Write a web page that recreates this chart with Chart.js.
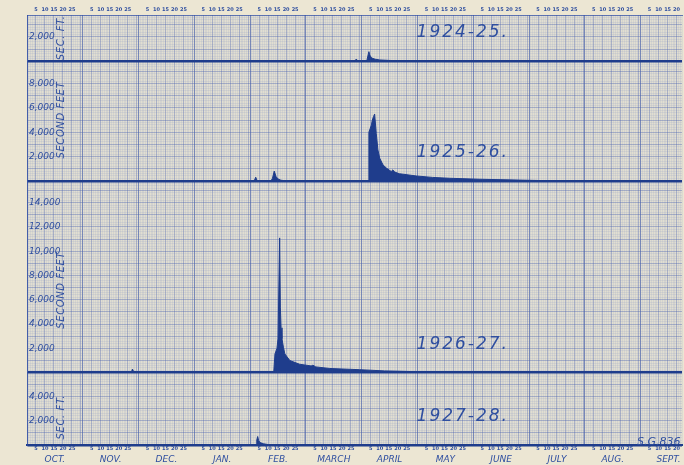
<!DOCTYPE html>
<html>
<head>
<meta charset="utf-8">
<script src="https://cdn.jsdelivr.net/npm/chart.js@4.4.1/dist/chart.umd.min.js"></script>
<style>
  html, body { margin: 0; padding: 0; background: #ece6d3; }
  canvas { display: block; }
</style>
</head>
<body>
<canvas id="hydroChart" width="684" height="465"></canvas>
<script>
const months = ["OCT", "NOV", "DEC", "JAN", "FEB", "MAR", "APR", "MAY", "JUN", "JUL", "AUG", "SEP"];
const monthLabels = ["OCT.", "NOV.", "DEC.", "JAN.", "FEB.", "MARCH", "APRIL", "MAY", "JUNE", "JULY", "AUG.", "SEPT."];
const dayMarks = [5, 10, 15, 20, 25];
const yearLabels = ["1924-25.", "1925-26.", "1926-27.", "1927-28."];
const unitLabels = ["SEC. FT.", "SECOND FEET", "SECOND FEET", "SEC. FT."];
const axisMax = [3800, 9850, 15800, 5950];

// discharge: [month, day, second-feet]
const flow1924_25 = [
    ["OCT", 1, 0], ["MAR", 27.5, 0], ["MAR", 28.5, 170], ["MAR", 29.5, 0],
    ["APR", 3.3, 0], ["APR", 3.8, 350], ["APR", 4.5, 780], ["APR", 5, 500],
    ["APR", 6, 260], ["APR", 8, 160], ["APR", 10.5, 100], ["APR", 16, 60],
    ["APR", 22, 30], ["MAY", 2, 0], ["SEP", 30, 0]
];
const flow1925_26 = [
    ["OCT", 1, 0], ["FEB", 2.8, 0], ["FEB", 3.6, 300], ["FEB", 4.4, 0],
    ["FEB", 12.1, 0], ["FEB", 12.9, 200], ["FEB", 13.9, 800], ["FEB", 14.9, 350],
    ["FEB", 16, 150], ["FEB", 17.6, 50], ["FEB", 20, 0],
    ["APR", 4.3, 0], ["APR", 4.5, 4000], ["APR", 5.9, 4600], ["APR", 6.4, 5000],
    ["APR", 7.1, 5300], ["APR", 7.7, 5500], ["APR", 8.6, 3900], ["APR", 9.5, 2550],
    ["APR", 10.5, 1870], ["APR", 12.3, 1320], ["APR", 14.2, 1050], ["APR", 16.9, 770],
    ["APR", 17.8, 900], ["APR", 18.8, 720], ["APR", 21.5, 580], ["APR", 30.8, 400],
    ["MAY", 8.8, 280], ["MAY", 18.2, 210], ["JUN", 3.8, 130], ["JUN", 26, 60],
    ["JUL", 14, 0], ["SEP", 30, 0]
];
const flow1926_27 = [
    ["OCT", 1, 0], ["NOV", 27.4, 0], ["NOV", 28.1, 300], ["NOV", 28.8, 80], ["NOV", 30, 0],
    ["DEC", 8, 0], ["DEC", 8.8, 90], ["DEC", 9.8, 0],
    ["FEB", 13.6, 0], ["FEB", 14.3, 1550], ["FEB", 15.4, 2000], ["FEB", 16, 2800],
    ["FEB", 16.9, 11100], ["FEB", 17.3, 5400], ["FEB", 17.7, 3700], ["FEB", 18.2, 2800],
    ["FEB", 19, 2100], ["FEB", 19.8, 1550], ["FEB", 22.6, 1000], ["FEB", 28, 700],
    ["MAR", 3.4, 560], ["MAR", 4.4, 620], ["MAR", 6, 480], ["MAR", 13.8, 350],
    ["MAR", 30.4, 250], ["APR", 13.2, 150], ["APR", 27.1, 100], ["MAY", 18.2, 60],
    ["JUN", 14.9, 30], ["JUL", 6, 0], ["SEP", 30, 0]
];
const flow1927_28 = [
    ["OCT", 1, 0], ["FEB", 3.9, 0], ["FEB", 4.2, 420], ["FEB", 4.7, 700], ["FEB", 5.2, 380],
    ["FEB", 6, 200], ["FEB", 8, 100], ["FEB", 10, 50], ["FEB", 13, 0], ["SEP", 30, 0]
];

const INK = "#1f3d8c";
const TEXT = "#2f4fa0";
const X_MAX = 364;

// every month gets 31 columns on the printed sheet
function paperDay(month, day) {
    return months.indexOf(month) * 31 + day - 0.5;
}

function dayTicks(scale) {
    const t = [];
    for (let v = 0; v <= X_MAX; v++) t.push({ value: v });
    scale.ticks = t;
}

function dayLabel(v) {
    const d = v % 31;
    return dayMarks.includes(d) ? String(d) : "";
}

function yAxis(i) {
    return {
        type: "linear",
        position: "left",
        stack: "flow",
        stackWeight: axisMax[i],
        min: 0,
        max: axisMax[i],
        afterBuildTicks: (scale) => {
            const t = [];
            for (let v = 0; v <= axisMax[i]; v += 200) t.push({ value: v });
            scale.ticks = t;
        },
        afterFit: (scale) => { scale.width = 0; },
        grid: {
            drawTicks: false,
            color: (c) => c.tick.value === 0 ? INK : (c.tick.value % 1000 === 0 ? "rgba(70,95,175,0.38)" : "rgba(90,115,190,0.11)"),
            lineWidth: (c) => c.tick.value === 0 ? 2.5 : 1
        },
        border: { display: true, color: "rgba(45,75,165,0.7)", width: 1 },
        ticks: {
            mirror: true,
            padding: 2,
            autoSkip: false,
            color: TEXT,
            font: { family: "DejaVu Sans", style: "italic", size: 9 },
            callback: (v) => (v > 0 && v % 2000 === 0) ? v.toLocaleString("en-US") : ""
        }
    };
}

// blue-print tint of the ruled area
const paperTint = {
    id: "paperTint",
    beforeDraw(chart) {
        const a = chart.chartArea;
        chart.ctx.save();
        chart.ctx.fillStyle = "rgba(120,140,185,0.09)";
        chart.ctx.fillRect(a.left, a.top, a.right - a.left, a.bottom - a.top);
        chart.ctx.restore();
    }
};

const sheetText = {
    id: "sheetText",
    afterDatasetsDraw(chart) {
        const ctx = chart.ctx;
        const xs = chart.scales.x;
        ctx.save();
        ctx.fillStyle = TEXT;
        ctx.textBaseline = "middle";
        ctx.textAlign = "left";
        ctx.font = 'italic 17px "DejaVu Sans"';
        ctx.letterSpacing = "2px";
        yearLabels.forEach((label, i) => {
            const ys = chart.scales["y" + (i + 1)];
            ctx.fillText(label, xs.getPixelForValue(216.5), ys.getPixelForValue(2350));
        });

        // rotated unit captions inside each panel
        const unitCenters = [1920, 5000, 6790, 2300];
        ctx.font = 'italic 10px "DejaVu Sans"';
        ctx.letterSpacing = "0.6px";
        ctx.textAlign = "center";
        unitLabels.forEach((label, i) => {
            const ys = chart.scales["y" + (i + 1)];
            ctx.save();
            ctx.translate(chart.chartArea.left + 34, ys.getPixelForValue(unitCenters[i]));
            ctx.rotate(-Math.PI / 2);
            ctx.fillText(label, 0, 0);
            ctx.restore();
        });

        ctx.font = 'italic 11px "DejaVu Sans"';
        ctx.letterSpacing = "0px";
        ctx.textAlign = "left";
        ctx.fillText("S.G.836 C", xs.getPixelForValue(339), chart.scales.y4.getPixelForValue(270));
        ctx.restore();
    }
};

let hydroChart = null;

function drawHydrograph() {
    const ctx = document.getElementById("hydroChart");
    if (hydroChart) hydroChart.destroy();

    const series = [flow1924_25, flow1925_26, flow1926_27, flow1927_28];
    const datasets = series.map((s, i) => ({
        data: s.map((p) => ({ x: paperDay(p[0], p[1]), y: p[2] })),
        yAxisID: "y" + (i + 1),
        fill: "origin",
        backgroundColor: INK,
        borderColor: INK,
        borderWidth: 1,
        pointRadius: 0,
        tension: 0
    }));

    const scales = {
        x: {
            type: "linear",
            position: "bottom",
            min: 0,
            max: X_MAX,
            afterBuildTicks: dayTicks,
            afterFit: (scale) => { scale.height = 8; },
            grid: {
                drawTicks: false,
                color: (c) => {
                    const v = c.tick.value;
                    if (v % 31 === 0) return "rgba(50,78,165,0.6)";
                    if ((v % 31) % 5 === 0) return "rgba(70,95,175,0.36)";
                    return "rgba(90,115,190,0.1)";
                }
            },
            border: { display: true, color: INK, width: 2 },
            ticks: {
                padding: 1,
                autoSkip: false,
                maxRotation: 0,
                minRotation: 0,
                color: TEXT,
                font: { family: "DejaVu Sans", weight: "bold", size: 5 },
                callback: dayLabel
            }
        },
        xMonth: {
            type: "linear",
            position: "bottom",
            min: 0,
            max: X_MAX,
            afterBuildTicks: (scale) => {
                scale.ticks = monthLabels.map((m, i) => ({ value: i * 31 + 15.5 }));
            },
            afterFit: (scale) => { scale.height = 12; },
            grid: { display: false, drawTicks: false },
            border: { display: false },
            ticks: {
                padding: 1,
                autoSkip: false,
                maxRotation: 0,
                minRotation: 0,
                color: TEXT,
                font: { family: "DejaVu Sans", style: "italic", size: 9 },
                callback: (v) => monthLabels[Math.floor(v / 31)]
            }
        },
        xTop: {
            type: "linear",
            position: "top",
            min: 0,
            max: X_MAX,
            afterBuildTicks: dayTicks,
            afterFit: (scale) => { scale.height = 15; },
            grid: { display: true, drawOnChartArea: false, drawTicks: false },
            border: { display: true, color: "rgba(45,75,165,0.7)", width: 1 },
            ticks: {
                padding: 2,
                autoSkip: false,
                maxRotation: 0,
                minRotation: 0,
                color: TEXT,
                font: { family: "DejaVu Sans", weight: "bold", size: 5 },
                callback: dayLabel
            }
        }
    };
    // last defined left axis ends up on top of the stack
    for (let i = 3; i >= 0; i--) scales["y" + (i + 1)] = yAxis(i);

    hydroChart = new Chart(ctx, {
        type: "line",
        data: { datasets },
        options: {
            responsive: false,
            animation: false,
            devicePixelRatio: 1,
            layout: { padding: { left: 27, right: 0, top: 0, bottom: 0 } },
            plugins: { legend: { display: false }, tooltip: { enabled: false } },
            scales
        },
        plugins: [paperTint, sheetText]
    });
}

drawHydrograph();
</script>
</body>
</html>
